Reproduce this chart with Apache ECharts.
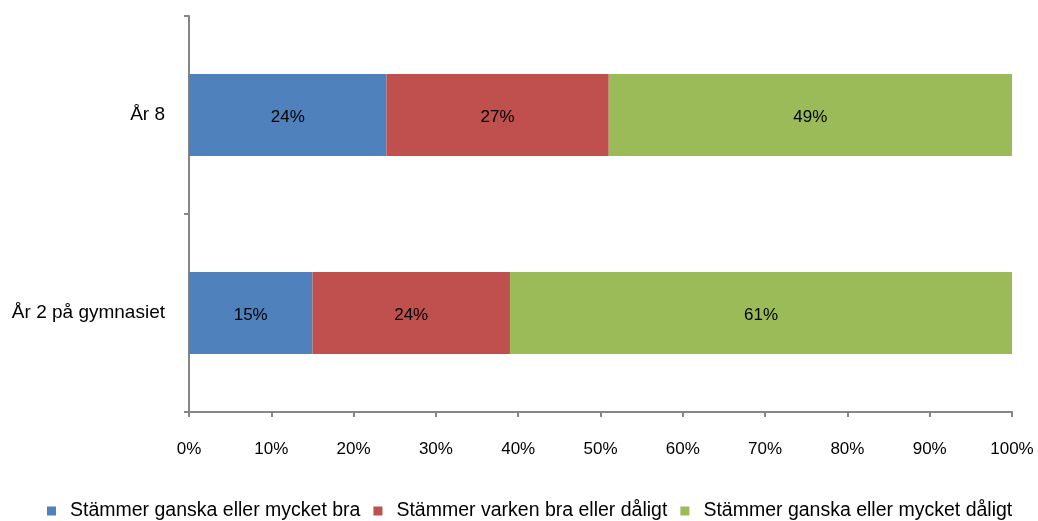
<!DOCTYPE html>
<html>
<head>
<meta charset="utf-8">
<script src="https://cdn.jsdelivr.net/npm/echarts@6/dist/echarts.min.js"></script>
<style>
html, body { margin: 0; padding: 0; background: #fff; }
#main { width: 1038px; height: 521px; }
</style>
</head>
<body>
<div id="main"></div>
<script>
var categories = ['År 8', 'År 2 på gymnasiet']
var seriesNames = ['Stämmer ganska eller mycket bra', 'Stämmer varken bra eller dåligt', 'Stämmer ganska eller mycket dåligt']
var goodVals = [24, 15]
var neutralVals = [27, 24]
var badVals = [49, 61]
var colors = ['#4F81BD', '#C0504D', '#9BBB59']

var chart = echarts.init(document.getElementById('main'))
var font = 'Liberation Sans, Arial, sans-serif'
var axisGray = '#868686'

function bar(name, vals, color){
	return {
		name: name,
		type: 'bar',
		stack: 'total',
		barWidth: 82,
		data: vals,
		itemStyle: { color: color },
		label: {
			show: true,
			position: 'inside',
			offset: [0, 2],
			formatter: '{c}%',
			color: '#000',
			fontFamily: font,
			fontSize: 17
		}
	}
}

chart.setOption({
	animation: false,
	color: colors,
	grid: { left: 189, right: 26, top: 16, bottom: 109, containLabel: false },
	legend: {
		top: 496,
		left: 42,
		icon: 'rect',
		itemWidth: 9,
		itemHeight: 9,
		itemGap: 13,
		textStyle: { fontFamily: font, fontSize: 19.5, color: '#000', padding: [0, 0, 0, 9] },
		data: seriesNames
	},
	xAxis: {
		type: 'value',
		min: 0,
		max: 100,
		interval: 10,
		splitLine: { show: false },
		axisLine: { show: true, lineStyle: { color: axisGray, width: 2 } },
		axisTick: { show: true, length: 5, lineStyle: { color: axisGray, width: 2 } },
		axisLabel: { formatter: '{value}%', color: '#000', fontFamily: font, fontSize: 17, margin: 29 }
	},
	yAxis: {
		type: 'category',
		inverse: true,
		data: categories,
		axisLine: { show: true, lineStyle: { color: axisGray, width: 2 } },
		axisTick: { show: true, length: 5, alignWithLabel: false, lineStyle: { color: axisGray, width: 2 } },
		axisLabel: { color: '#000', fontFamily: font, fontSize: 19, margin: 24 }
	},
	series: [
		bar(seriesNames[0], goodVals, colors[0]),
		bar(seriesNames[1], neutralVals, colors[1]),
		bar(seriesNames[2], badVals, colors[2])
	]
})
</script>
</body>
</html>
